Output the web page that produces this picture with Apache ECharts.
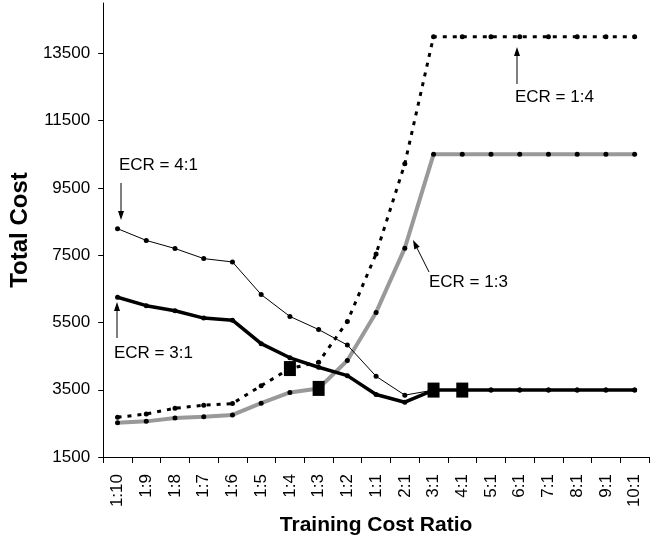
<!DOCTYPE html>
<html>
<head>
<meta charset="utf-8">
<script src="https://cdn.jsdelivr.net/npm/echarts@6/dist/echarts.min.js"></script>
<style>html,body{margin:0;padding:0;background:#fff}#c{width:657px;height:541px}</style>
</head>
<body>
<div id="c"></div>
<script>
var categories = ['1:10','1:9','1:8','1:7','1:6','1:5','1:4','1:3','1:2','1:1','2:1','3:1','4:1','5:1','6:1','7:1','8:1','9:1','10:1'];
var yTicks = [1500, 3500, 5500, 7500, 9500, 11500, 13500];
var ecr41 = [8290, 7940, 7700, 7400, 7300, 6330, 5680, 5290, 4830, 3900, 3340, 3490, 3490, 3490, 3490, 3490, 3490, 3490, 3490];
var ecr31 = [6250, 6000, 5850, 5630, 5570, 4870, 4450, 4170, 3920, 3360, 3130, 3490, 3490, 3490, 3490, 3490, 3490, 3490, 3490];
var ecr13 = [2520, 2560, 2660, 2700, 2750, 3100, 3420, 3540, 4370, 5800, 7710, 10500, 10500, 10500, 10500, 10500, 10500, 10500, 10500];
var ecr14 = [2680, 2780, 2950, 3040, 3090, 3620, 4130, 4320, 5530, 7540, 10220, 14000, 14000, 14000, 14000, 14000, 14000, 14000, 14000];
var minIdx41 = [];
var minIdx31 = [11, 12];
var minIdx13 = [7];
var minIdx14 = [6];

var FONT = "'Liberation Sans', Arial, sans-serif";

function withSquares(arr, idx) {
  return arr.map(function (v, i) {
    if (idx.indexOf(i) >= 0) {
      return { value: v, symbol: 'rect', symbolSize: [12, 15], z: 10 };
    }
    return v;
  });
}

function lineSeries(name, arr, idx, lineStyle, z) {
  return {
    name: name,
    type: 'line',
    data: withSquares(arr, idx),
    symbol: 'circle',
    symbolSize: 5,
    showAllSymbol: true,
    itemStyle: { color: '#000' },
    lineStyle: lineStyle,
    z: z,
    animation: false
  };
}

var chart = echarts.init(document.getElementById('c'));

function arrow(x1, y1, x2, y2) {
  var dx = x2 - x1, dy = y2 - y1;
  var len = Math.sqrt(dx * dx + dy * dy);
  var ux = dx / len, uy = dy / len;
  var hl = 9, hw = 3;
  var bx = x2 - ux * hl, by = y2 - uy * hl;
  return [
    { type: 'line', shape: { x1: x1, y1: y1, x2: bx, y2: by }, style: { stroke: '#000', lineWidth: 1 }, z: 20 },
    { type: 'polygon', shape: { points: [[x2, y2], [bx - uy * hw, by + ux * hw], [bx + uy * hw, by - ux * hw]] }, style: { fill: '#000' }, z: 20 }
  ];
}

function label(text, x, y) {
  return { type: 'text', x: x, y: y, style: { text: text, font: '17px ' + FONT, fill: '#000', verticalAlign: 'middle' }, z: 20 };
}

var graphics = [].concat(
  [label('ECR = 4:1', 119, 165), label('ECR = 3:1', 114, 353), label('ECR = 1:4', 515, 97), label('ECR = 1:3', 429, 282)],
  arrow(121, 183, 121, 220),
  arrow(117, 338, 117, 302),
  arrow(517, 84, 517, 47),
  arrow(429, 272, 413, 240)
);

chart.setOption({
  animation: false,
  backgroundColor: '#fff',
  grid: { left: 95, right: 8, top: 3, bottom: 83.5, containLabel: false },
  xAxis: {
    type: 'category',
    data: categories,
    boundaryGap: true,
    name: 'Training Cost Ratio',
    nameLocation: 'middle',
    nameGap: 54,
    nameTextStyle: { fontFamily: FONT, fontWeight: 'bold', fontSize: 21, color: '#000' },
    axisLine: { lineStyle: { color: '#000', width: 1 } },
    axisTick: { show: true, length: 6, alignWithLabel: false, lineStyle: { color: '#000' } },
    axisLabel: { rotate: 90, fontFamily: FONT, fontSize: 17, color: '#000', margin: 17, interval: 0 },
    splitLine: { show: false }
  },
  yAxis: {
    type: 'value',
    min: 1500,
    max: 15000,
    interval: 2000,
    name: 'Total Cost',
    nameLocation: 'middle',
    nameRotate: 90,
    nameGap: 62,
    nameTextStyle: { fontFamily: FONT, fontWeight: 'bold', fontSize: 24, color: '#000' },
    axisLine: { show: true, lineStyle: { color: '#000', width: 1 } },
    axisTick: { show: true, length: 5, lineStyle: { color: '#000' }, customValues: yTicks },
    axisLabel: { fontFamily: FONT, fontSize: 17, color: '#000', margin: 13, customValues: yTicks,
      formatter: function (v) { return String(v); } },
    splitLine: { show: false }
  },
  series: [
    lineSeries('ECR = 1:3', ecr13, minIdx13, { color: '#999999', width: 4 }, 2),
    lineSeries('ECR = 1:4', ecr14, minIdx14, { color: '#000', width: 3, type: [4, 6] }, 3),
    lineSeries('ECR = 4:1', ecr41, minIdx41, { color: '#000', width: 1 }, 4),
    lineSeries('ECR = 3:1', ecr31, minIdx31, { color: '#000', width: 3.5 }, 5)
  ],
  graphic: graphics
});
</script>
</body>
</html>
